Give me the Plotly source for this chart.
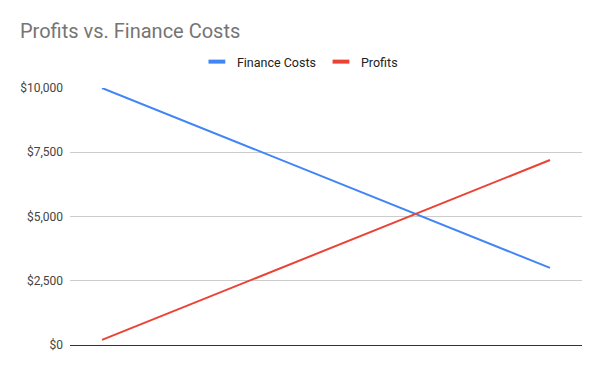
import plotly.graph_objects as go

categories = ["1", "2", "3", "4", "5", "6", "7", "8"]
finance_costs = [10000, 9000, 8000, 7000, 6000, 5000, 4000, 3000]
profits = [200, 1200, 2200, 3200, 4200, 5200, 6200, 7200]
y_ticks = [0, 2500, 5000, 7500, 10000]
y_tick_labels = ["$0", "$2,500", "$5,000", "$7,500", "$10,000"]
series_names = ["Finance Costs", "Profits"]
series_colors = ["#4285F4", "#EA4335"]

W, H = 584, 355

fig = go.Figure()
for name, vals, color in zip(series_names, [finance_costs, profits], series_colors):
    fig.add_trace(go.Scatter(x=categories, y=vals, mode="lines", name=name,
                             line=dict(color=color, width=2), showlegend=False,
                             legendgroup=name))
    fig.add_trace(go.Scatter(x=[None], y=[None], mode="markers", name=name,
                             legendgroup=name, showlegend=True,
                             marker=dict(symbol="line-ew-open", size=12, color=color,
                                         line=dict(color=color, width=4))))

fig.update_layout(
    width=W, height=H,
    margin=dict(l=62, r=10, t=80, b=18),
    paper_bgcolor="white", plot_bgcolor="white",
    font=dict(family="Roboto, Arial, sans-serif", color="#222222", size=12),
    title=dict(text="Profits vs. Finance Costs", x=12/W, xanchor="left",
               y=1 - 23/H, yanchor="middle",
               font=dict(size=20, color="#757575", family="Roboto, Arial, sans-serif")),
    legend=dict(orientation="h", x=0.449, xanchor="center", y=1 + 26/257, yanchor="middle",
                font=dict(size=12.5, color="#222222"), itemwidth=30, bgcolor="rgba(0,0,0,0)"),
    showlegend=True,
)
fig.update_xaxes(type="category", range=[-0.5, 7.5], showticklabels=False, showgrid=False,
                 showline=True, linecolor="#333333", linewidth=1, ticks="", zeroline=False)
fig.update_yaxes(range=[0, 10000], tickvals=y_ticks, ticktext=y_tick_labels,
                 showgrid=True, gridcolor="#cccccc", gridwidth=1, zeroline=False,
                 tickfont=dict(size=12, color="#444444"), ticks="", showline=False,
                 ticklabelstandoff=6)

fig.write_html("out.html")
